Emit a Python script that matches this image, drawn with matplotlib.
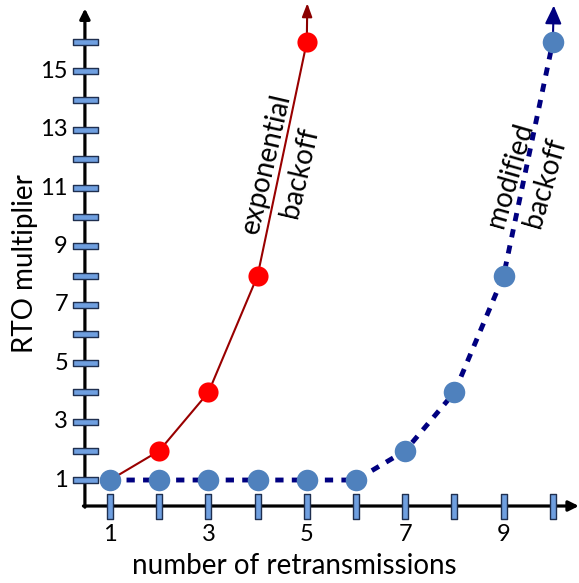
import matplotlib
matplotlib.use("Agg")
import matplotlib.pyplot as plt
from matplotlib.path import Path

plt.rcParams['font.family'] = ['Lato', 'DejaVu Sans']

# data
retrans = [1, 2, 3, 4, 5, 6, 7, 8, 9, 10]
exp_x = [1, 2, 3, 4, 5]
exp_y = [1, 2, 4, 8, 16]
mod_x = [1, 2, 3, 4, 5, 6, 7, 8, 9, 10]
mod_y = [1, 1, 1, 1, 1, 1, 2, 4, 8, 16]
x_tick_labels = ['1', '3', '5', '7', '9']
y_ticks = list(range(1, 17))
y_tick_labels = ['1', '3', '5', '7', '9', '11', '13', '15']
xlabel = 'number of retransmissions'
ylabel = 'RTO multiplier'

fig = plt.figure(figsize=(5.79, 5.83), dpi=100)
ax = fig.add_axes([0, 0, 1, 1])
ax.set_xlim(-1.236, 10.533)
ax.set_ylim(-2.527, 17.44)
ax.axis('off')

x0, y0 = 0.49, 0.11
# axes with arrows
ax.annotate('', xy=(x0, 17.15), xytext=(x0, y0 - 0.04),
            arrowprops=dict(arrowstyle='-|>,head_length=0.6,head_width=0.3', lw=2.3,
                            color='black', shrinkA=0, shrinkB=0), zorder=1)
ax.annotate('', xy=(10.53, y0), xytext=(x0 - 0.03, y0),
            arrowprops=dict(arrowstyle='-|>,head_length=0.6,head_width=0.3', lw=2.3,
                            color='black', shrinkA=0, shrinkB=0), zorder=1)

# tick marks as rectangles
hrect = Path([(-4, -1), (4, -1), (4, 1), (-4, 1), (-4, -1)],
             [Path.MOVETO, Path.LINETO, Path.LINETO, Path.LINETO, Path.CLOSEPOLY])
vrect = Path([(-1, -4), (1, -4), (1, 4), (-1, 4), (-1, -4)],
             [Path.MOVETO, Path.LINETO, Path.LINETO, Path.LINETO, Path.CLOSEPOLY])
ax.plot([x0] * len(y_ticks), y_ticks, linestyle='none', marker=hrect, markersize=18,
        markerfacecolor='#6f9fe0', markeredgecolor='#1f2f4f', markeredgewidth=1.0, zorder=2)
ax.plot(retrans, [y0] * len(retrans), linestyle='none', marker=vrect, markersize=18,
        markerfacecolor='#6f9fe0', markeredgecolor='#1f2f4f', markeredgewidth=1.0, zorder=2)

# tick labels
tfs = 17
for i, lab in enumerate(x_tick_labels):
    ax.text(retrans[2 * i], -0.85, lab, ha='center', va='center', fontsize=tfs)
for i, lab in enumerate(y_tick_labels):
    ax.text(0.146, y_ticks[2 * i], lab, ha='right', va='center', fontsize=tfs)

ax.text(4.74, -1.945, xlabel, ha='center', va='center', fontsize=20)
ax.text(-0.728, 8.4, ylabel, ha='center', va='center', fontsize=20, rotation=90)

# exponential backoff
ax.plot(exp_x, exp_y, color='#990000', lw=1.5, zorder=3)
ax.annotate('', xy=(5.01, 17.33), xytext=(exp_x[-1], exp_y[-1]),
            arrowprops=dict(arrowstyle='-|>,head_length=0.8,head_width=0.3', lw=1.5,
                            color='#8b0000', shrinkA=0, shrinkB=0), zorder=3)
ax.plot(exp_x, exp_y, linestyle='none', marker='o', markersize=14.5,
        markerfacecolor='#ff0000', markeredgecolor='none', zorder=4)

# modified backoff
ax.plot(mod_x, mod_y, color='#000080', lw=3.5, dashes=(1.7, 1.7), zorder=5)
ax.annotate('', xy=(10.02, 17.25), xytext=(mod_x[-1], mod_y[-1]),
            arrowprops=dict(arrowstyle='-|>,head_length=1.1,head_width=0.5', lw=1.5,
                            color='#000080', shrinkA=0, shrinkB=0), zorder=5)
ax.plot(mod_x, mod_y, linestyle='none', marker='o', markersize=15.5,
        markerfacecolor='#4f81bd', markeredgecolor='none', zorder=6)

afs = 20
ax.text(4.17, 11.86, 'exponential', ha='center', va='center', fontsize=afs, rotation=77)
ax.text(4.86, 11.55, 'backoff', ha='center', va='center', fontsize=afs, rotation=77)
ax.text(9.13, 11.45, 'modified', ha='center', va='center', fontsize=afs, rotation=74)
ax.text(9.84, 11.17, 'backoff', ha='center', va='center', fontsize=afs, rotation=74)

fig.savefig('out.png', dpi=100)
